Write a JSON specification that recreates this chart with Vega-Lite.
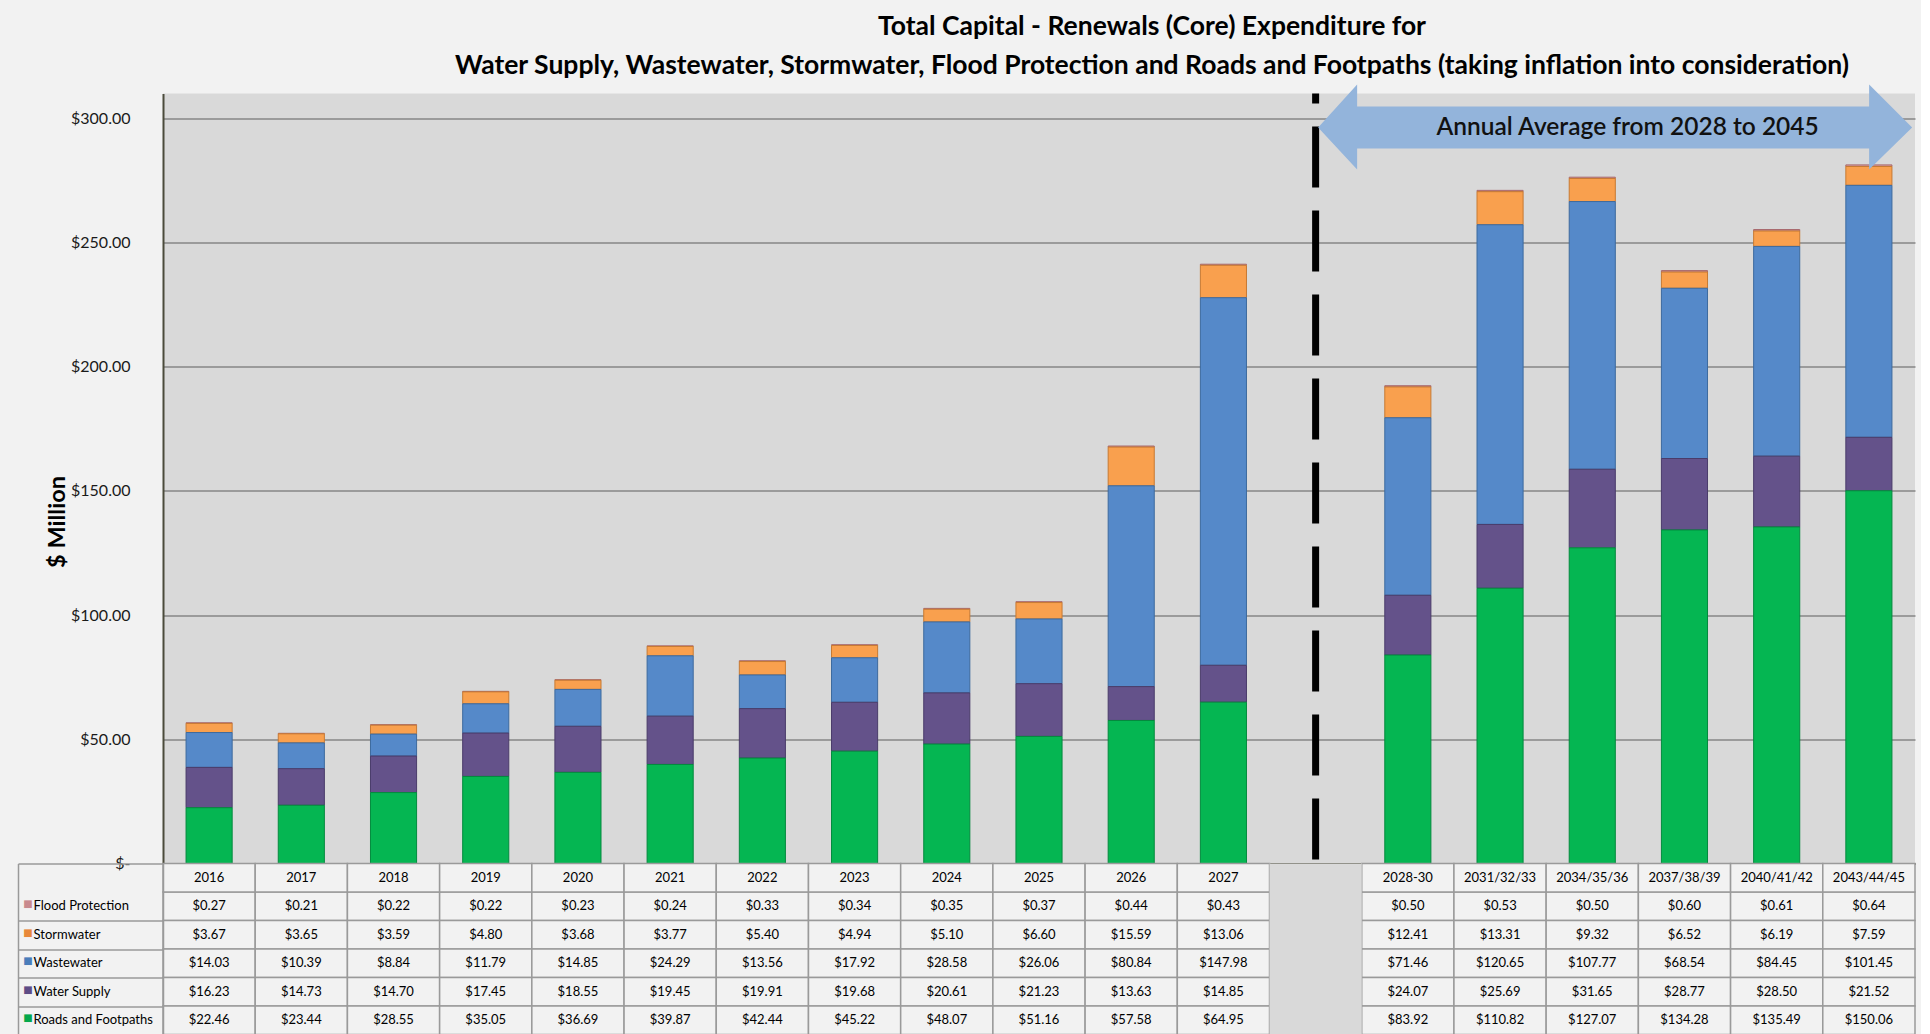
{
  "$schema": "https://vega.github.io/schema/vega-lite/v6.json",
  "background": "#F2F2F2",
  "padding": {"left": 17, "top": 13.5, "right": 5, "bottom": 0},
  "config": {"font": "Lato", "view": {"stroke": null}},
  "spacing": 0,
  "bounds": "flush",
  "resolve": {"scale": {"x": "independent", "y": "independent"}},
  "datasets": {
    "wide": [
      {"cat": "2016", "Flood Protection": 0.27, "Stormwater": 3.67, "Wastewater": 14.03, "Water Supply": 16.23, "Roads and Footpaths": 22.46},
      {"cat": "2017", "Flood Protection": 0.21, "Stormwater": 3.65, "Wastewater": 10.39, "Water Supply": 14.73, "Roads and Footpaths": 23.44},
      {"cat": "2018", "Flood Protection": 0.22, "Stormwater": 3.59, "Wastewater": 8.84, "Water Supply": 14.70, "Roads and Footpaths": 28.55},
      {"cat": "2019", "Flood Protection": 0.22, "Stormwater": 4.80, "Wastewater": 11.79, "Water Supply": 17.45, "Roads and Footpaths": 35.05},
      {"cat": "2020", "Flood Protection": 0.23, "Stormwater": 3.68, "Wastewater": 14.85, "Water Supply": 18.55, "Roads and Footpaths": 36.69},
      {"cat": "2021", "Flood Protection": 0.24, "Stormwater": 3.77, "Wastewater": 24.29, "Water Supply": 19.45, "Roads and Footpaths": 39.87},
      {"cat": "2022", "Flood Protection": 0.33, "Stormwater": 5.40, "Wastewater": 13.56, "Water Supply": 19.91, "Roads and Footpaths": 42.44},
      {"cat": "2023", "Flood Protection": 0.34, "Stormwater": 4.94, "Wastewater": 17.92, "Water Supply": 19.68, "Roads and Footpaths": 45.22},
      {"cat": "2024", "Flood Protection": 0.35, "Stormwater": 5.10, "Wastewater": 28.58, "Water Supply": 20.61, "Roads and Footpaths": 48.07},
      {"cat": "2025", "Flood Protection": 0.37, "Stormwater": 6.60, "Wastewater": 26.06, "Water Supply": 21.23, "Roads and Footpaths": 51.16},
      {"cat": "2026", "Flood Protection": 0.44, "Stormwater": 15.59, "Wastewater": 80.84, "Water Supply": 13.63, "Roads and Footpaths": 57.58},
      {"cat": "2027", "Flood Protection": 0.43, "Stormwater": 13.06, "Wastewater": 147.98, "Water Supply": 14.85, "Roads and Footpaths": 64.95},
      {"cat": "2028-30", "Flood Protection": 0.50, "Stormwater": 12.41, "Wastewater": 71.46, "Water Supply": 24.07, "Roads and Footpaths": 83.92},
      {"cat": "2031/32/33", "Flood Protection": 0.53, "Stormwater": 13.31, "Wastewater": 120.65, "Water Supply": 25.69, "Roads and Footpaths": 110.82},
      {"cat": "2034/35/36", "Flood Protection": 0.50, "Stormwater": 9.32, "Wastewater": 107.77, "Water Supply": 31.65, "Roads and Footpaths": 127.07},
      {"cat": "2037/38/39", "Flood Protection": 0.60, "Stormwater": 6.52, "Wastewater": 68.54, "Water Supply": 28.77, "Roads and Footpaths": 134.28},
      {"cat": "2040/41/42", "Flood Protection": 0.61, "Stormwater": 6.19, "Wastewater": 84.45, "Water Supply": 28.50, "Roads and Footpaths": 135.49},
      {"cat": "2043/44/45", "Flood Protection": 0.64, "Stormwater": 7.59, "Wastewater": 101.45, "Water Supply": 21.52, "Roads and Footpaths": 150.06}
    ],
    "cats": [
      {"cat": "2016"}, {"cat": "2017"}, {"cat": "2018"}, {"cat": "2019"}, {"cat": "2020"}, {"cat": "2021"},
      {"cat": "2022"}, {"cat": "2023"}, {"cat": "2024"}, {"cat": "2025"}, {"cat": "2026"}, {"cat": "2027"},
      {"cat": "gap"},
      {"cat": "2028-30"}, {"cat": "2031/32/33"}, {"cat": "2034/35/36"}, {"cat": "2037/38/39"}, {"cat": "2040/41/42"}, {"cat": "2043/44/45"}
    ],
    "seriesInfo": [
      {"series": "Roads and Footpaths", "rank": 1},
      {"series": "Water Supply", "rank": 2},
      {"series": "Wastewater", "rank": 3},
      {"series": "Stormwater", "rank": 4},
      {"series": "Flood Protection", "rank": 5}
    ]
  },
  "vconcat": [
    {
      "width": 1752,
      "height": 770,
      "title": {
        "text": ["Total Capital - Renewals (Core) Expenditure for", "Water Supply, Wastewater, Stormwater, Flood Protection and Roads and Footpaths (taking inflation into consideration)"],
        "font": "Lato",
        "fontSize": 26.5,
        "fontWeight": "bold",
        "lineHeight": 39,
        "anchor": "middle",
        "dx": 113,
        "offset": 5,
        "color": "#000000"
      },
      "view": {"fill": "#D9D9D9", "stroke": null},
      "layer": [
        {
          "data": {"name": "wide"},
          "transform": [
            {"fold": ["Flood Protection", "Stormwater", "Wastewater", "Water Supply", "Roads and Footpaths"], "as": ["series", "value"]},
            {"lookup": "series", "from": {"data": {"name": "seriesInfo"}, "key": "series", "fields": ["rank"]}}
          ],
          "mark": {"type": "bar", "strokeWidth": 1},
          "encoding": {
            "x": {
              "field": "cat", "type": "nominal", "sort": null,
              "scale": {"domain": ["2016","2017","2018","2019","2020","2021","2022","2023","2024","2025","2026","2027","gap","2028-30","2031/32/33","2034/35/36","2037/38/39","2040/41/42","2043/44/45"], "paddingInner": 0.5, "paddingOuter": 0.25},
              "axis": {"labels": false, "ticks": false, "domain": true, "domainColor": "#4B4B3B", "domainWidth": 2, "title": null, "grid": false}
            },
            "y": {
              "field": "value", "type": "quantitative", "stack": "zero",
              "scale": {"domain": [0, 310], "nice": false},
              "axis": {
                "values": [0, 50, 100, 150, 200, 250, 300],
                "labelExpr": "datum.value == 0 ? '$-' : '$' + format(datum.value, '.2f')",
                "labelFontSize": 16, "labelColor": "#1A1A1A", "labelPadding": 33,
                "ticks": false, "tickSize": 0,
                "grid": true, "gridColor": "#868686", "gridWidth": 1.5,
                "domain": true, "domainColor": "#4B4B3B", "domainWidth": 2,
                "title": "$ Million", "titleFontSize": 23.5, "titleFontWeight": "bold", "titleColor": "#000000",
                "titlePadding": 1, "titleY": 428
              }
            },
            "color": {
              "field": "series", "type": "nominal",
              "scale": {"domain": ["Roads and Footpaths", "Water Supply", "Wastewater", "Stormwater", "Flood Protection"], "range": ["#05B652", "#64528A", "#5589C9", "#F9A04E", "#D4989B"]},
              "legend": null
            },
            "stroke": {
              "field": "series", "type": "nominal",
              "scale": {"domain": ["Roads and Footpaths", "Water Supply", "Wastewater", "Stormwater", "Flood Protection"], "range": ["#048A3E", "#4A3C6A", "#3D6A9E", "#C77A33", "#A86A6E"]},
              "legend": null
            },
            "order": {"field": "rank", "type": "quantitative"}
          }
        },
        {
          "data": {"name": "cats"},
          "transform": [{"filter": "datum.cat === 'gap'"}],
          "mark": {"type": "rule", "color": "#000000", "strokeWidth": 7, "strokeDash": [61, 23], "strokeDashOffset": 51},
          "encoding": {"x": {"field": "cat", "type": "nominal"}}
        },
        {
          "data": {"name": "cats"},
          "transform": [{"filter": "datum.cat === 'gap'"}],
          "mark": {
            "type": "point", "filled": true, "opacity": 1, "fill": "#93B4DB", "stroke": null, "size": 40000,
            "shape": "M0.025,0 L0.415,-0.43 L0.415,-0.21 L5.535,-0.21 L5.535,-0.43 L5.965,0 L5.535,0.42 L5.535,0.21 L0.415,0.21 L0.415,0.42 Z"
          },
          "encoding": {
            "x": {"field": "cat", "type": "nominal"},
            "y": {"datum": 296.3, "type": "quantitative"}
          }
        },
        {
          "data": {"name": "cats"},
          "transform": [{"filter": "datum.cat === 'gap'"}],
          "mark": {"type": "text", "text": "Annual Average from 2028 to 2045", "dx": 312, "align": "center", "baseline": "middle", "fontSize": 24.5, "fontWeight": 600, "color": "#111111"},
          "encoding": {
            "x": {"field": "cat", "type": "nominal"},
            "y": {"datum": 296.3, "type": "quantitative"}
          }
        }
      ]
    },
    {
      "width": 1752,
      "height": 171,
      "resolve": {"axis": {"y": "independent"}},
      "layer": [
        {
          "data": {"name": "wide"},
          "transform": [{"fold": ["Flood Protection", "Stormwater", "Wastewater", "Water Supply", "Roads and Footpaths"], "as": ["series", "value"]}],
          "mark": {"type": "rect", "fill": "#F2F2F2", "stroke": "#9A9A9A", "strokeWidth": 1.5},
          "encoding": {
            "x": {"field": "cat", "type": "nominal", "sort": null, "scale": {"domain": ["2016","2017","2018","2019","2020","2021","2022","2023","2024","2025","2026","2027","gap","2028-30","2031/32/33","2034/35/36","2037/38/39","2040/41/42","2043/44/45"], "paddingInner": 0, "paddingOuter": 0}, "axis": null},
            "y": {
              "field": "series", "type": "nominal", "sort": null,
              "scale": {"domain": ["header", "Flood Protection", "Stormwater", "Wastewater", "Water Supply", "Roads and Footpaths"], "paddingInner": 0, "paddingOuter": 0},
              "axis": {
                "orient": "left", "labels": false, "ticks": true, "tickBand": "extent", "tickSize": 145,
                "tickColor": {"condition": {"test": "datum.value === 'header'", "value": "transparent"}, "value": "#9A9A9A"},
                "tickWidth": 1.5, "domain": true, "domainColor": "#9A9A9A", "domainWidth": 1.5, "grid": false, "title": null
              }
            }
          }
        },
        {
          "data": {"name": "cats"},
          "transform": [{"filter": "datum.cat !== 'gap'"}],
          "mark": {"type": "rect", "fill": "#F2F2F2", "stroke": "#9A9A9A", "strokeWidth": 1.5},
          "encoding": {
            "x": {"field": "cat", "type": "nominal", "sort": null, "axis": null},
            "y": {
              "datum": "header", "type": "nominal",
              "axis": {
                "orient": "left", "ticks": false, "tickSize": 0, "domain": false, "grid": false, "title": null,
                "labelAlign": "left", "labelBaseline": "middle", "labelPadding": 130,
                "labelExpr": "datum.value === 'header' ? '' : datum.value",
                "labelFontSize": 13, "labelColor": "#000000", "labelLimit": 300
              }
            }
          }
        },
        {
          "data": {"name": "cats"},
          "transform": [{"filter": "datum.cat === 'gap'"}],
          "mark": {"type": "rect", "fill": "#D9D9D9"},
          "encoding": {
            "x": {"field": "cat", "type": "nominal", "sort": null, "axis": null}
          }
        },
        {
          "data": {"name": "wide"},
          "transform": [{"fold": ["Flood Protection", "Stormwater", "Wastewater", "Water Supply", "Roads and Footpaths"], "as": ["series", "value"]}],
          "mark": {"type": "text", "fontSize": 13, "color": "#000000", "align": "center", "baseline": "middle"},
          "encoding": {
            "x": {"field": "cat", "type": "nominal", "sort": null, "axis": null},
            "y": {
              "field": "series", "type": "nominal", "sort": null,
              "axis": {
                "orient": "left", "ticks": false, "tickSize": 0, "domain": false, "grid": false, "title": null,
                "labelAlign": "center", "labelBaseline": "middle", "labelPadding": 135.5, "labelOffset": -2,
                "labelExpr": "datum.value === 'header' ? '' : '■'",
                "labelFont": "DejaVu Sans", "labelFontSize": 10,
                "labelColor": {
                  "condition": [
                    {"test": "datum.value === 'Flood Protection'", "value": "#C98A8E"},
                    {"test": "datum.value === 'Stormwater'", "value": "#E8883A"},
                    {"test": "datum.value === 'Wastewater'", "value": "#4A7DBA"},
                    {"test": "datum.value === 'Water Supply'", "value": "#5E4C86"}
                  ],
                  "value": "#05A84C"
                }
              }
            },
            "text": {"field": "value", "type": "quantitative", "format": "$.2f"}
          }
        },
        {
          "data": {"name": "cats"},
          "transform": [{"filter": "datum.cat !== 'gap'"}],
          "mark": {"type": "text", "fontSize": 13, "color": "#000000", "align": "center", "baseline": "middle"},
          "encoding": {
            "x": {"field": "cat", "type": "nominal", "sort": null, "axis": null},
            "y": {
              "datum": "header", "type": "nominal",
              "axis": {"orient": "left", "offset": 145, "labels": false, "ticks": false, "domain": true, "domainColor": "#9A9A9A", "domainWidth": 1.5, "grid": false, "title": null}
            },
            "text": {"field": "cat", "type": "nominal"}
          }
        }
      ]
    }
  ]
}
